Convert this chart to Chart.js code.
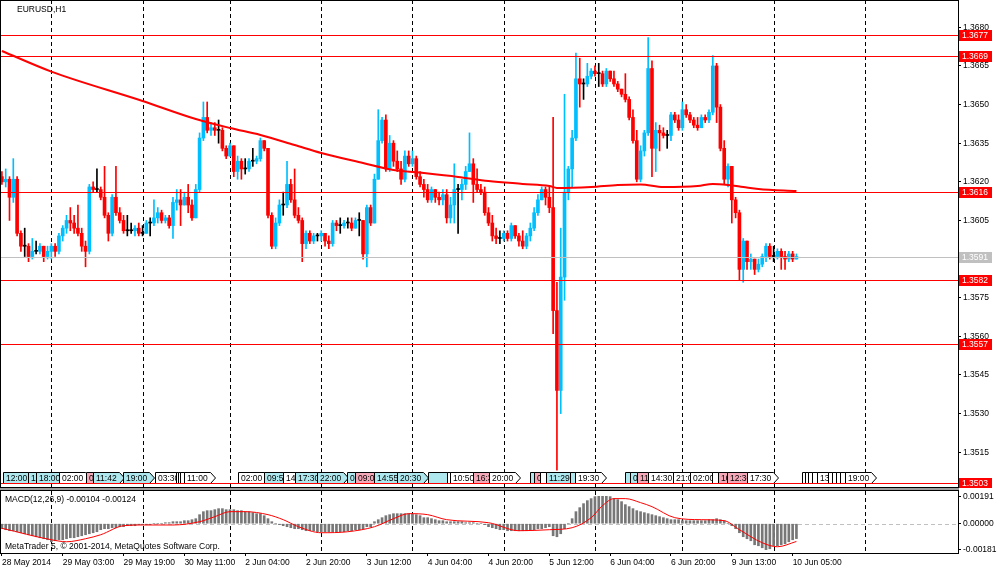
<!DOCTYPE html>
<html>
<head>
<meta charset="utf-8">
<script src="https://cdn.jsdelivr.net/npm/chart.js@4.4.1/dist/chart.umd.min.js"></script>
<style>
html, body { margin: 0; padding: 0; background: #fff; }
#wrap { position: relative; width: 1000px; height: 574px; overflow: hidden; background: #fff; }
#price { position: absolute; left: 0; top: 0; }
#macd { position: absolute; left: 0; top: 488px; }
</style>
</head>
<body>
<div id="wrap">
  <canvas id="price" width="1000" height="488"></canvas>
  <canvas id="macd" width="1000" height="86"></canvas>
</div>
<script>
// EURUSD H1, 28 May 2014 11:00 .. 10 Jun 05:00 (one value per hourly bar)
const firstOpen = 1.3622;
const closes = [
  1.3620,1.3621,1.3614,1.3621,1.3600,1.3595,1.3595,1.3591,1.3593,1.3593,
  1.3595,1.3591,1.3593,1.3595,1.3593,1.3599,1.3602,1.3605,1.3604,1.3602,
  1.3600,1.3595,1.3593,1.3618,1.3617,1.3617,1.3614,1.3607,1.3600,1.3614,
  1.3608,1.3605,1.3601,1.3601,1.3601,1.3602,1.3600,1.3600,1.3604,1.3604,
  1.3606,1.3608,1.3605,1.3606,1.3603,1.3612,1.3613,1.3611,1.3614,1.3611,
  1.3606,1.3617,1.3637,1.3645,1.3640,1.3641,1.3640,1.3640,1.3633,1.3630,
  1.3634,1.3624,1.3628,1.3625,1.3625,1.3628,1.3628,1.3629,1.3636,1.3633,
  1.3607,1.3595,1.3604,1.3611,1.3611,1.3619,1.3613,1.3607,1.3605,1.3596,
  1.3600,1.3597,1.3599,1.3599,1.3600,1.3597,1.3596,1.3604,1.3603,1.3603,
  1.3604,1.3604,1.3602,1.3605,1.3605,1.3592,1.3610,1.3604,1.3621,1.3636,
  1.3644,1.3625,1.3635,1.3628,1.3625,1.3621,1.3630,1.3627,1.3629,1.3622,
  1.3619,1.3617,1.3613,1.3617,1.3614,1.3613,1.3615,1.3606,1.3611,1.3617,
  1.3617,1.3619,1.3624,1.3627,1.3619,1.3617,1.3616,1.3608,1.3604,1.3599,
  1.3598,1.3598,1.3600,1.3598,1.3603,1.3599,1.3597,1.3595,1.3599,1.3602,
  1.3608,1.3613,1.3617,1.3614,1.3610,1.3570,1.3539,1.3583,1.3616,1.3625,
  1.3637,1.3660,1.3658,1.3658,1.3661,1.3663,1.3662,1.3662,1.3658,1.3663,
  1.3660,1.3658,1.3656,1.3654,1.3652,1.3645,1.3636,1.3621,1.3632,1.3639,
  1.3664,1.3633,1.3640,1.3639,1.3638,1.3638,1.3646,1.3644,1.3641,1.3648,
  1.3646,1.3644,1.3642,1.3641,1.3645,1.3644,1.3647,1.3665,1.3649,1.3633,
  1.3621,1.3626,1.3613,1.3608,1.3586,1.3597,1.3589,1.3590,1.3586,1.3588,
  1.3591,1.3595,1.3591,1.3591,1.3593,1.3591,1.3590,1.3592,1.3590,1.3591
];
const highs = [
  1.3624,1.3625,1.3622,1.3629,1.3622,1.3601,1.3602,1.3596,1.3598,1.3597,
  1.3596,1.3595,1.3595,1.3596,1.3596,1.3600,1.3603,1.3607,1.3610,1.3607,
  1.3611,1.3602,1.3597,1.3619,1.3620,1.3625,1.3618,1.3626,1.3608,1.3615,
  1.3626,1.3610,1.3607,1.3607,1.3604,1.3603,1.3604,1.3603,1.3605,1.3606,
  1.3613,1.3610,1.3609,1.3607,1.3607,1.3614,1.3617,1.3617,1.3616,1.3619,
  1.3613,1.3619,1.3639,1.3651,1.3651,1.3643,1.3643,1.3644,1.3641,1.3634,
  1.3635,1.3634,1.3630,1.3629,1.3629,1.3629,1.3633,1.3630,1.3637,1.3636,
  1.3633,1.3608,1.3606,1.3613,1.3616,1.3628,1.3621,1.3625,1.3610,1.3606,
  1.3601,1.3601,1.3600,1.3600,1.3601,1.3600,1.3599,1.3605,1.3605,1.3606,
  1.3605,1.3606,1.3606,1.3606,1.3608,1.3605,1.3611,1.3611,1.3623,1.3648,
  1.3645,1.3646,1.3638,1.3636,1.3632,1.3628,1.3632,1.3632,1.3632,1.3630,
  1.3624,1.3621,1.3619,1.3618,1.3617,1.3616,1.3617,1.3617,1.3614,1.3627,
  1.3619,1.3621,1.3626,1.3639,1.3629,1.3625,1.3619,1.3618,1.3610,1.3607,
  1.3602,1.3601,1.3601,1.3601,1.3604,1.3603,1.3600,1.3601,1.3600,1.3604,
  1.3610,1.3615,1.3618,1.3618,1.3618,1.3645,1.3581,1.3602,1.3654,1.3626,
  1.3640,1.3670,1.3668,1.3660,1.3666,1.3664,1.3665,1.3666,1.3663,1.3664,
  1.3663,1.3663,1.3659,1.3656,1.3662,1.3653,1.3648,1.3640,1.3634,1.3640,
  1.3676,1.3667,1.3643,1.3642,1.3641,1.3640,1.3647,1.3647,1.3646,1.3651,
  1.3650,1.3647,1.3645,1.3645,1.3646,1.3646,1.3648,1.3669,1.3666,1.3650,
  1.3636,1.3627,1.3626,1.3614,1.3609,1.3598,1.3597,1.3592,1.3590,1.3590,
  1.3592,1.3596,1.3596,1.3595,1.3594,1.3594,1.3593,1.3593,1.3593,1.3592
];
const lows = [
  1.3619,1.3618,1.3605,1.3612,1.3599,1.3593,1.3591,1.3589,1.3590,1.3592,
  1.3592,1.3589,1.3590,1.3590,1.3591,1.3592,1.3597,1.3600,1.3601,1.3600,
  1.3599,1.3593,1.3587,1.3592,1.3616,1.3616,1.3613,1.3606,1.3597,1.3599,
  1.3607,1.3604,1.3600,1.3599,1.3600,1.3599,1.3599,1.3599,1.3600,1.3599,
  1.3603,1.3604,1.3604,1.3604,1.3602,1.3598,1.3609,1.3603,1.3611,1.3608,
  1.3605,1.3606,1.3616,1.3636,1.3639,1.3638,1.3638,1.3635,1.3632,1.3629,
  1.3630,1.3622,1.3621,1.3621,1.3623,1.3624,1.3626,1.3627,1.3628,1.3632,
  1.3606,1.3594,1.3594,1.3603,1.3607,1.3610,1.3612,1.3606,1.3604,1.3589,
  1.3594,1.3596,1.3596,1.3597,1.3597,1.3595,1.3594,1.3595,1.3601,1.3600,
  1.3602,1.3602,1.3601,1.3602,1.3599,1.3590,1.3587,1.3603,1.3604,1.3621,
  1.3635,1.3624,1.3624,1.3626,1.3624,1.3619,1.3620,1.3626,1.3626,1.3621,
  1.3618,1.3614,1.3612,1.3612,1.3612,1.3611,1.3611,1.3604,1.3604,1.3604,
  1.3600,1.3613,1.3617,1.3624,1.3612,1.3616,1.3615,1.3607,1.3603,1.3597,
  1.3596,1.3596,1.3597,1.3597,1.3597,1.3598,1.3595,1.3594,1.3594,1.3597,
  1.3601,1.3607,1.3613,1.3611,1.3608,1.3561,1.3508,1.3530,1.3574,1.3613,
  1.3618,1.3636,1.3649,1.3652,1.3657,1.3660,1.3661,1.3657,1.3657,1.3657,
  1.3659,1.3657,1.3655,1.3653,1.3651,1.3644,1.3635,1.3620,1.3620,1.3630,
  1.3638,1.3622,1.3624,1.3632,1.3637,1.3633,1.3636,1.3643,1.3640,1.3640,
  1.3645,1.3643,1.3641,1.3640,1.3641,1.3643,1.3643,1.3646,1.3643,1.3632,
  1.3619,1.3618,1.3604,1.3606,1.3582,1.3581,1.3586,1.3586,1.3584,1.3585,
  1.3587,1.3589,1.3590,1.3589,1.3590,1.3586,1.3586,1.3589,1.3589,1.3590
];
// moving average read at a few bars: [bar, value]
const maPoints = [
  [0,1.36708],[13,1.36628],[37,1.36514],[51,1.36444],[60,1.36409],[68,1.36382],
  [77,1.36343],[84,1.36312],[95,1.36273],[103,1.36246],[111,1.36234],[120,1.36219],
  [128,1.36203],[137,1.36192],[144,1.36184],[146,1.36176],[155,1.36180],[162,1.36188],
  [168,1.36190],[174,1.36180],[183,1.36184],[187,1.36192],[191,1.36188],[195,1.36180],
  [199,1.36172],[209,1.36164]
];
// MACD(12,26,9) main line, one value per bar
const macdMain = [
  -0.00035,-0.00042,-0.00049,-0.00049,-0.00056,-0.00063,-0.00070,-0.00077,-0.00084,-0.00091,
  -0.00098,-0.00105,-0.00112,-0.00126,-0.00119,-0.00112,-0.00112,-0.00105,-0.00098,-0.00098,
  -0.00091,-0.00084,-0.00077,-0.00070,-0.00063,-0.00056,-0.00042,-0.00035,-0.00035,-0.00028,
  -0.00028,-0.00021,-0.00021,-0.00014,-0.00014,-0.00014,-0.00007,-0.00007,-0.00007,-0.00007,
  0,0,0,0.00007,0.00007,0.00014,0.00014,0.00014,0.00021,0.00021,
  0.00028,0.00035,0.00063,0.00084,0.00091,0.00091,0.00098,0.00105,0.00105,0.00098,
  0.00098,0.00098,0.00091,0.00091,0.00084,0.00084,0.00077,0.00070,0.00070,0.00056,
  0.00035,0.00014,0,-0.00007,-0.00014,-0.00021,-0.00028,-0.00035,-0.00035,-0.00042,
  -0.00049,-0.00049,-0.00049,-0.00056,-0.00056,-0.00056,-0.00056,-0.00056,-0.00056,-0.00056,
  -0.00056,-0.00049,-0.00049,-0.00042,-0.00042,-0.00035,-0.00021,-0.00021,0.00014,0.00028,
  0.00042,0.00056,0.00063,0.00070,0.00070,0.00070,0.00070,0.00070,0.00070,0.00063,
  0.00056,0.00042,0.00042,0.00035,0.00028,0.00021,0.00021,0.00014,0.00014,0.00014,
  0.00014,0.00014,0.00007,0.00007,0.00007,0,0,-0.00007,-0.00021,-0.00028,
  -0.00035,-0.00042,-0.00042,-0.00049,-0.00049,-0.00049,-0.00049,-0.00049,-0.00049,-0.00042,
  -0.00042,-0.00035,-0.00035,-0.00028,-0.00021,-0.00084,-0.00091,-0.00070,-0.00035,0,
  0.00035,0.00084,0.00112,0.00140,0.00161,0.00175,0.00189,0.00191,0.00191,0.00191,
  0.00189,0.00175,0.00168,0.00154,0.00133,0.00119,0.00105,0.00091,0.00084,0.00077,
  0.00070,0.00063,0.00056,0.00049,0.00042,0.00035,0.00028,0.00028,0.00028,0.00021,
  0.00021,0.00021,0.00021,0.00021,0.00021,0.00021,0.00028,0.00028,0.00035,0.00028,
  0.00021,0,-0.00014,-0.00035,-0.00063,-0.00091,-0.00105,-0.00119,-0.00147,-0.00154,
  -0.00168,-0.00181,-0.00175,-0.00154,-0.00154,-0.00147,-0.00140,-0.00126,-0.00112,-0.00104
];
// MACD signal line read at a few bars: [bar, value]
const signalPoints = [
  [0,-0.00032],[13,-0.00112],[17,-0.00126],[22,-0.00105],[26,-0.00077],[32,-0.00014],
  [37,-0.00009],[45,-0.00009],[52,0.00014],[56,0.00049],[60,0.00084],[64,0.00084],
  [70,0.00063],[74,0.00028],[78,-0.00021],[84,-0.00063],[91,-0.00056],[98,-0.00021],
  [103,0.00035],[107,0.00070],[112,0.00063],[117,0.00028],[128,0.00007],[136,-0.00049],
  [144,-0.00042],[150,-0.00028],[155,0.00042],[158,0.00126],[161,0.00175],[164,0.00175],
  [168,0.00147],[171,0.00119],[177,0.00042],[184,0.00028],[190,0.00021],[194,-0.00042],
  [200,-0.00133],[204,-0.00161],[209,-0.00124]
];

const priceTicks = [1.3515,1.3530,1.3545,1.3560,1.3575,1.3590,1.3605,1.3620,1.3635,1.3650,1.3665,1.3680];
const macdTicks = [0.00191, 0, -0.00181];
const levelLines = [1.3677, 1.3669, 1.3616, 1.3582, 1.3557, 1.3503];
const bidPrice = 1.3591;
const daySeparators = [13, 37, 60, 84, 108, 132, 156, 179, 203, 227];
const timeTickBars = [0,16,32,48,64,80,96,112,128,144,160,176,192,208];
const timeTickText = ['28 May 2014','29 May 03:00','29 May 19:00','30 May 11:00','2 Jun 04:00',
  '2 Jun 20:00','3 Jun 12:00','4 Jun 04:00','4 Jun 20:00','5 Jun 12:00','6 Jun 04:00',
  '6 Jun 20:00','9 Jun 13:00','10 Jun 05:00'];
// calendar events along the bottom: [bar position, time text, c=cyan p=pink w=white]
const events = [
  [0.3,'12:00','c'],[6.8,'15:30','c'],[9,'18:00','c'],[15,'02:00','w'],[22,'09:00','p'],
  [24,'11:42','c'],[31.8,'19:00','c'],[40.3,'03:30','w'],[45.8,'','w'],[46.3,'','w'],
  [46.8,'','w'],[47.9,'11:00','w'],[62,'02:00','w'],[69,'09:55','c'],[74,'14:00','w'],
  [77,'17:30','c'],[83,'22:00','c'],[90.8,'08:00','c'],[93,'09:00','p'],[98,'14:55','c'],
  [104,'20:30','c'],[112,'','c'],[117,'','w'],[118,'10:50','w'],[124,'16:30','p'],
  [128,'20:00','w'],[139,'','c'],[140,'09:00','p'],[141.6,'','w'],[143,'11:29','c'],
  [149.5,'','c'],[150.8,'19:30','w'],[164,'','c'],[165.3,'09:00','c'],[167,'11:00','p'],
  [170,'14:30','w'],[176.6,'21:00','w'],[181,'02:00','w'],[186.8,'','w'],[188.4,'10:00','p'],
  [190.8,'12:30','p'],[196,'17:30','w'],[210.5,'','w'],[211.3,'','w'],[212.1,'','w'],
  [213,'','w'],[214.5,'13:00','w'],[217.4,'','w'],[218.4,'','w'],[219.5,'','w'],
  [220.5,'','w'],[221.8,'19:00','w']
];

const SLOTS = 252;
const BULL = '#00bfff', BEAR = '#ff0000', DOJI = '#000000';
const FONT_FAMILY = '"Liberation Sans", Arial, sans-serif';
const FONT = '8.5px ' + FONT_FAMILY;
const TAG_FILL = { c: '#aee8ee', p: '#f5a9b8', w: '#ffffff' };

Chart.defaults.font.family = FONT_FAMILY;
Chart.defaults.font.size = 8.5;
Chart.defaults.color = '#000';

const labels = Array.from({ length: SLOTS }, (_, i) => String(i));
// forex bars open where the previous one closed
const opens = closes.map((c, i) => i === 0 ? firstOpen : closes[i - 1]);
const barColors = closes.map((c, i) => c > opens[i] ? BULL : (c < opens[i] ? BEAR : DOJI));

function sparse(points) {
  const arr = new Array(SLOTS).fill(null);
  points.forEach(p => { arr[p[0]] = p[1]; });
  return arr;
}

const tickTextMap = {};
timeTickBars.forEach((b, k) => { tickTextMap[b] = timeTickText[k]; });

function fixWidth(s) { s.width = 42; s.paddingTop = 0; s.paddingBottom = 0; }

function drawSeparators(chart) {
  const { ctx, chartArea: a, scales: { x } } = chart;
  ctx.save();
  ctx.strokeStyle = '#000';
  ctx.lineWidth = 1;
  ctx.setLineDash([4, 3]);
  daySeparators.forEach(b => {
    const px = Math.round(x.getPixelForValue(b)) + 0.5;
    ctx.beginPath();
    ctx.moveTo(px, a.top);
    ctx.lineTo(px, a.bottom);
    ctx.stroke();
  });
  ctx.restore();
}

function drawTag(ctx, x, text, kind, top, h) {
  ctx.font = FONT;
  const w = Math.round(Math.max(ctx.measureText(text).width, 22) + 9);
  ctx.beginPath();
  ctx.moveTo(x + 0.5, top + 0.5);
  ctx.lineTo(x + w - 4.5, top + 0.5);
  ctx.lineTo(x + w + 0.5, top + h / 2 + 0.5);
  ctx.lineTo(x + w - 4.5, top + h + 0.5);
  ctx.lineTo(x + 0.5, top + h + 0.5);
  ctx.closePath();
  ctx.fillStyle = TAG_FILL[kind];
  ctx.fill();
  ctx.strokeStyle = '#000';
  ctx.lineWidth = 1;
  ctx.stroke();
  ctx.fillStyle = '#000';
  ctx.textBaseline = 'middle';
  ctx.textAlign = 'left';
  ctx.fillText(text, x + 3, top + h / 2 + 1);
}

const priceOverlay = {
  id: 'priceOverlay',
  beforeDatasetsDraw(chart) { drawSeparators(chart); },
  afterDatasetsDraw(chart) {
    const { ctx, chartArea: a, scales: { x, y } } = chart;
    ctx.save();
    ctx.beginPath();
    ctx.rect(a.left, a.top, a.right - a.left, a.bottom - a.top);
    ctx.clip();
    events.forEach(ev => {
      drawTag(ctx, Math.round(x.getPixelForValue(ev[0])), ev[1], ev[2], a.bottom - 15, 11);
    });
    const by = Math.round(y.getPixelForValue(bidPrice)) + 0.5;
    ctx.strokeStyle = '#c0c0c0';
    ctx.lineWidth = 1;
    ctx.beginPath(); ctx.moveTo(a.left, by); ctx.lineTo(a.right, by); ctx.stroke();
    ctx.strokeStyle = '#ff0000';
    levelLines.forEach(v => {
      const py = Math.round(y.getPixelForValue(v)) + 0.5;
      ctx.beginPath(); ctx.moveTo(a.left, py); ctx.lineTo(a.right, py); ctx.stroke();
    });
    ctx.restore();
  },
  afterDraw(chart) {
    const { ctx, chartArea: a, scales: { y } } = chart;
    ctx.save();
    ctx.strokeStyle = '#000';
    ctx.lineWidth = 1;
    ctx.strokeRect(0.5, 0.5, a.right, a.bottom);
    ctx.font = FONT;
    ctx.textBaseline = 'middle';
    ctx.textAlign = 'left';
    ctx.fillStyle = '#000';
    ctx.fillText('EURUSD,H1', 17, 10);
    const box = (v, fill) => {
      const py = Math.round(y.getPixelForValue(v));
      ctx.fillStyle = fill;
      ctx.fillRect(a.right + 1, py - 5, 33, 11);
      ctx.fillStyle = '#fff';
      ctx.fillText(v.toFixed(4), a.right + 4, py + 1);
    };
    box(bidPrice, '#c0c0c0');
    levelLines.forEach(v => box(v, '#ff0000'));
    ctx.restore();
  }
};

const macdOverlay = {
  id: 'macdOverlay',
  beforeDatasetsDraw(chart) {
    drawSeparators(chart);
    const { ctx, chartArea: a, scales: { y } } = chart;
    const zy = Math.round(y.getPixelForValue(0)) + 0.5;
    ctx.save();
    ctx.strokeStyle = '#c0c0c0';
    ctx.setLineDash([4, 3]);
    ctx.beginPath(); ctx.moveTo(a.left, zy); ctx.lineTo(a.right, zy); ctx.stroke();
    ctx.restore();
  },
  afterDraw(chart) {
    const { ctx, chartArea: a } = chart;
    ctx.save();
    ctx.fillStyle = '#9a9a9a';
    ctx.fillRect(0, 0, a.right + 1, 2);
    ctx.strokeStyle = '#000';
    ctx.lineWidth = 1;
    ctx.strokeRect(0.5, a.top - 0.5, a.right, a.bottom - a.top + 1);
    ctx.font = FONT;
    ctx.textBaseline = 'middle';
    ctx.textAlign = 'left';
    ctx.fillStyle = '#000';
    const last = macdMain[macdMain.length - 1];
    const lastSig = signalPoints[signalPoints.length - 1][1];
    ctx.fillText('MACD(12,26,9) ' + last.toFixed(5) + ' ' + lastSig.toFixed(5), 5, a.top + 9);
    ctx.fillText('MetaTrader 5, \u00a9 2001-2014, MetaQuotes Software Corp.', 5, a.bottom - 6);
    ctx.restore();
  }
};

new Chart(document.getElementById('price'), {
  type: 'bar',
  data: {
    labels: labels,
    datasets: [
      {
        type: 'line',
        label: 'MA',
        data: sparse(maPoints),
        spanGaps: true,
        borderColor: '#ff0000',
        borderWidth: 2,
        pointRadius: 0,
        cubicInterpolationMode: 'monotone',
        order: 0
      },
      {
        label: 'body',
        data: closes.map((c, i) => [opens[i], c]),
        backgroundColor: barColors,
        barThickness: 3,
        minBarLength: 1,
        grouped: false,
        order: 1
      },
      {
        label: 'wick',
        data: lows.map((l, i) => [l, highs[i]]),
        backgroundColor: barColors,
        barThickness: 1,
        grouped: false,
        order: 2
      }
    ]
  },
  options: {
    responsive: false,
    animation: false,
    devicePixelRatio: 1,
    events: [],
    layout: { padding: { left: 0, right: 0, top: 0, bottom: 1 } },
    plugins: { legend: { display: false }, tooltip: { enabled: false } },
    scales: {
      x: { type: 'category', display: false, offset: true },
      y: {
        position: 'right',
        min: 1.35015,
        max: 1.36906,
        afterBuildTicks: s => { s.ticks = priceTicks.map(v => ({ value: v })); },
        afterFit: fixWidth,
        ticks: { callback: v => v.toFixed(4), padding: 2, color: '#000' },
        grid: { drawOnChartArea: false, tickLength: 3, color: '#000' },
        border: { color: '#000' }
      }
    }
  },
  plugins: [priceOverlay]
});

new Chart(document.getElementById('macd'), {
  type: 'bar',
  data: {
    labels: labels,
    datasets: [
      {
        type: 'line',
        label: 'Signal',
        data: sparse(signalPoints),
        spanGaps: true,
        borderColor: '#ff0000',
        borderWidth: 1,
        pointRadius: 0,
        cubicInterpolationMode: 'monotone',
        order: 0
      },
      {
        label: 'MACD',
        data: macdMain,
        backgroundColor: '#777777',
        barThickness: 2,
        order: 1
      }
    ]
  },
  options: {
    responsive: false,
    animation: false,
    devicePixelRatio: 1,
    events: [],
    layout: { padding: { left: 0, right: 0, top: 3, bottom: 0 } },
    plugins: { legend: { display: false }, tooltip: { enabled: false } },
    scales: {
      x: {
        type: 'category',
        position: 'bottom',
        offset: true,
        afterFit: s => { s.height = 21; s.paddingLeft = 0; s.paddingRight = 0; },
        ticks: {
          autoSkip: false,
          maxRotation: 0,
          minRotation: 0,
          align: 'start',
          padding: 2,
          color: '#000',
          callback: (v, i) => tickTextMap[i] !== undefined ? tickTextMap[i] : ''
        },
        grid: {
          offset: false,
          drawOnChartArea: false,
          tickLength: 3,
          color: c => tickTextMap[c.index] !== undefined ? '#000' : 'rgba(0,0,0,0)'
        },
        border: { color: '#000' }
      },
      y: {
        position: 'right',
        min: -0.002045,
        max: 0.002282,
        afterBuildTicks: s => { s.ticks = macdTicks.map(v => ({ value: v })); },
        afterFit: fixWidth,
        ticks: { callback: v => v.toFixed(5), padding: 2, color: '#000' },
        grid: { drawOnChartArea: false, tickLength: 3, color: '#000' },
        border: { color: '#000' }
      }
    }
  },
  plugins: [macdOverlay]
});
</script>
</body>
</html>
